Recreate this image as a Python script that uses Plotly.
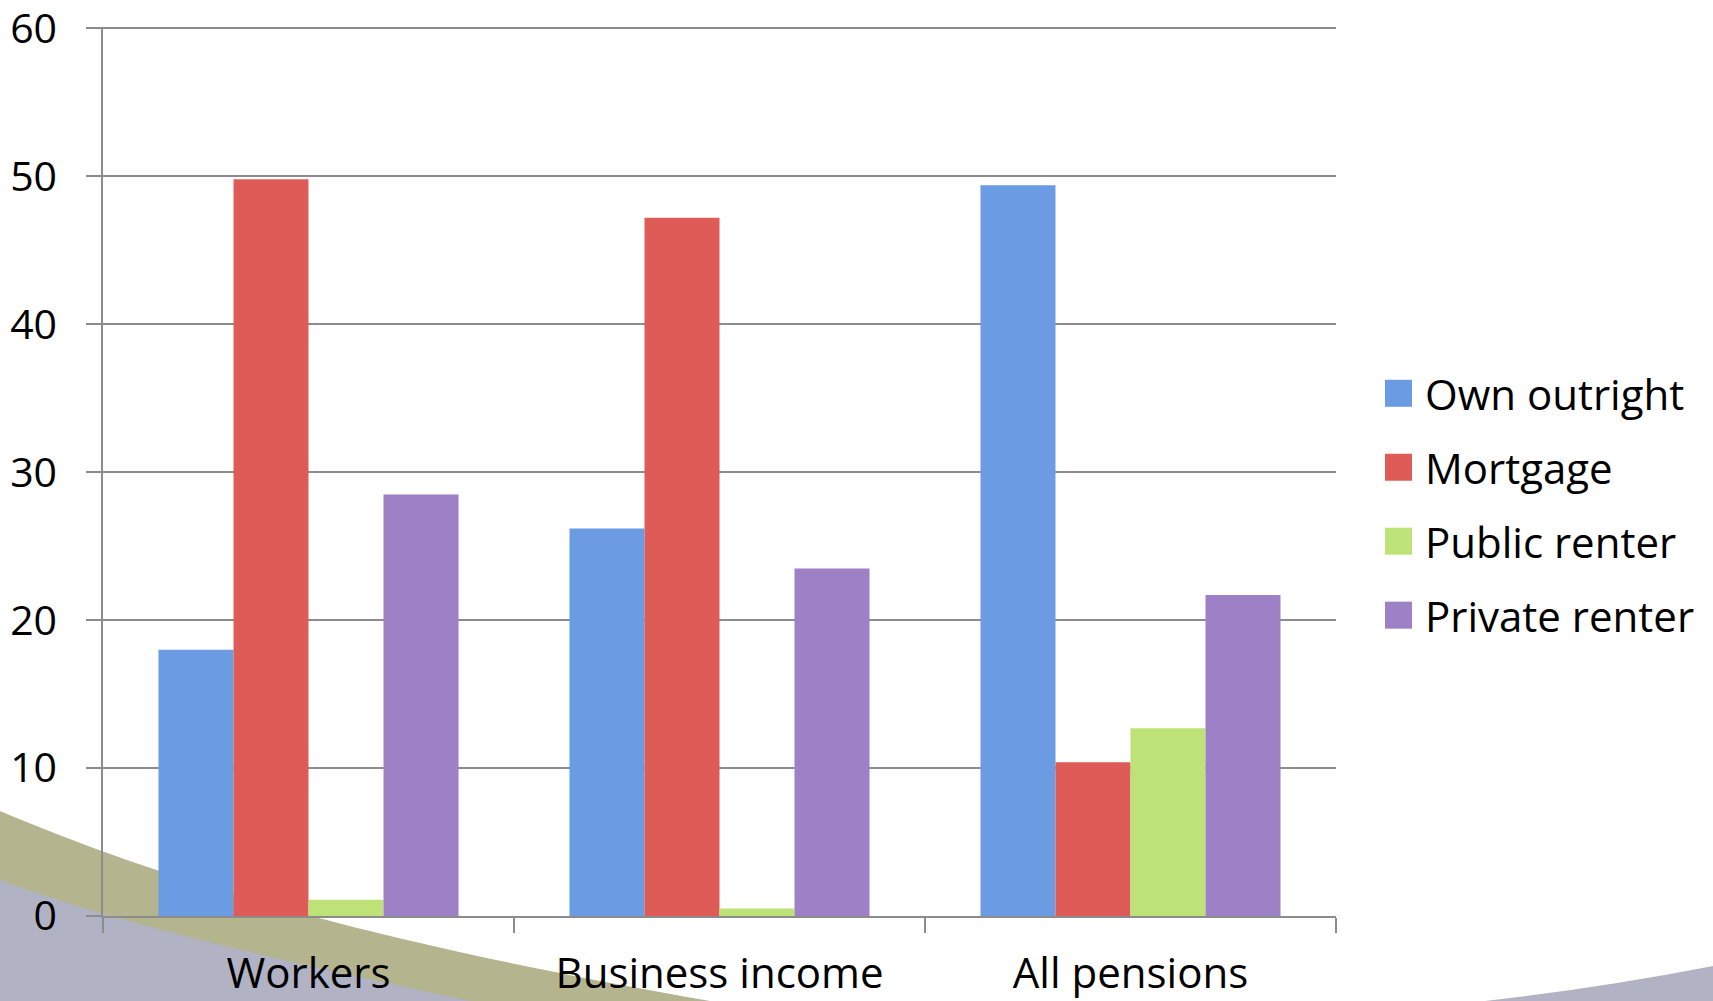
import plotly.graph_objects as go

categories = ["Workers", "Business income", "All pensions"]
series_names = ["Own outright", "Mortgage", "Public renter", "Private renter"]
own_outright = [18.0, 26.2, 49.4]
mortgage = [49.8, 47.2, 10.4]
public_renter = [1.1, 0.5, 12.7]
private_renter = [28.5, 23.5, 21.7]
y_ticks = [0, 10, 20, 30, 40, 50, 60]

series_values = [own_outright, mortgage, public_renter, private_renter]
colors = ["#6a9be3", "#de5b58", "#bde277", "#9e80c6"]

W, H = 1713, 1001
Y_MAX = 60.1
ML, MR, MB = 103, 377, 85
MT = H - MB - 888 * Y_MAX / 60
PW, PH = W - ML - MR, H - MT - MB


def px(x):
    return (x - ML) / PW


def py(y):
    return (H - MB - y) / PH


fig = go.Figure()
for name, vals, col in zip(series_names, series_values, colors):
    fig.add_trace(go.Bar(x=categories, y=vals, name=name,
                         marker=dict(color=col, line=dict(width=0)),
                         showlegend=False))

shapes = []
# decorative slide swooshes
olive = (f"M {px(0)},{py(811)} C {px(140)},{py(870)} {px(330)},{py(935)} {px(710)},{py(1001)} "
         f"L {px(0)},{py(1001)} Z")
gray = (f"M {px(0)},{py(880)} C {px(120)},{py(925)} {px(300)},{py(965)} {px(470)},{py(1001)} "
        f"L {px(0)},{py(1001)} Z")
gray_r = (f"M {px(1485)},{py(1001)} Q {px(1600)},{py(988)} {px(1713)},{py(966)} "
          f"L {px(1713)},{py(1001)} Z")
for path, col in [(olive, "#b4b48f"), (gray, "#b1b3c5"), (gray_r, "#b1b3c5")]:
    shapes.append(dict(type="path", path=path, xref="paper", yref="paper",
                       fillcolor=col, line=dict(width=0), layer="below"))

annotations = []
legend_y = [393, 467, 541, 615]
for name, col, ly in zip(series_names, colors, legend_y):
    shapes.append(dict(type="rect", xref="paper", yref="paper",
                       x0=px(1385), x1=px(1412), y0=py(ly + 13.5), y1=py(ly - 13.5),
                       fillcolor=col, line=dict(width=0)))
    annotations.append(dict(x=px(1423), y=py(ly), xref="paper", yref="paper",
                            text=name, showarrow=False, xanchor="left", yanchor="middle",
                            font=dict(size=42, color="black", family="Open Sans")))

fig.update_layout(
    width=W, height=H,
    margin=dict(l=ML, r=MR, t=MT, b=MB, autoexpand=False),
    paper_bgcolor="white", plot_bgcolor="rgba(0,0,0,0)",
    barmode="group", bargap=0.27, bargroupgap=0,
    font=dict(family="Open Sans", color="black"),
    shapes=shapes, annotations=annotations,
    showlegend=False,
    xaxis=dict(showline=True, linecolor="#8c8c8c", linewidth=1.5, automargin=False,
               ticks="outside", tickson="boundaries", ticklen=15,
               tickcolor="#8c8c8c", tickwidth=1.5,
               tickfont=dict(size=42, color="black"), ticklabelstandoff=20,
               showgrid=False),
    yaxis=dict(range=[0, Y_MAX], tickvals=y_ticks, showline=True, linecolor="#8c8c8c",
               linewidth=1.5, ticks="outside", ticklen=15, tickcolor="#8c8c8c",
               tickwidth=1.5, showgrid=True, gridcolor="#8c8c8c", gridwidth=1.5,
               zeroline=False, tickfont=dict(size=41, color="black"),
               ticklabelstandoff=21, automargin=False, ticklabeloverflow="allow"),
)

fig.write_html("out.html")
